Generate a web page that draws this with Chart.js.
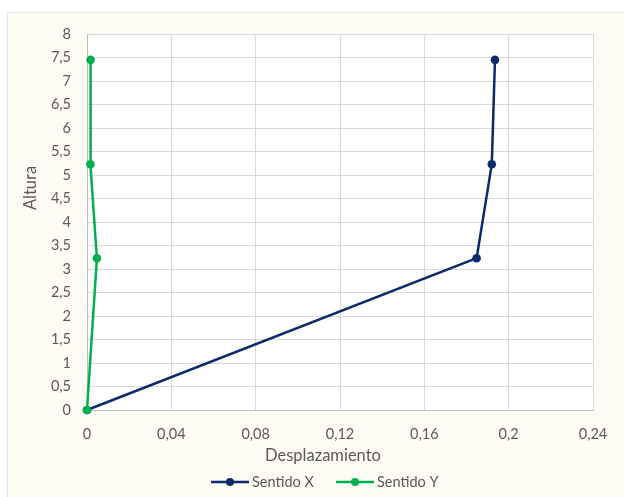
<!DOCTYPE html>
<html>
<head>
<meta charset="utf-8">
<script src="https://cdn.jsdelivr.net/npm/chart.js@4"></script>
<style>
  html, body { margin: 0; padding: 0; background: #ffffff; }
  #wrap { position: absolute; left: 0; top: 0; width: 624px; height: 497px; }
</style>
</head>
<body>
<div id="wrap"><canvas id="c" width="624" height="497"></canvas></div>
<script>
// Desplazamiento por nivel (altura en m)
const alturas = [0, 3.23, 5.23, 7.45];
const sentidoX = [0, 0.1848, 0.1920, 0.1935];
const sentidoY = [0, 0.0047, 0.0016, 0.0017];

const xTickValues = [0, 0.04, 0.08, 0.12, 0.16, 0.2, 0.24];
const xTickLabels = ['0', '0,04', '0,08', '0,12', '0,16', '0,2', '0,24'];
const yTickValues = [0, 0.5, 1, 1.5, 2, 2.5, 3, 3.5, 4, 4.5, 5, 5.5, 6, 6.5, 7, 7.5, 8];
const yTickLabels = ['0', '0,5', '1', '1,5', '2', '2,5', '3', '3,5', '4', '4,5', '5', '5,5', '6', '6,5', '7', '7,5', '8'];

const seriesNames = ['Sentido X', 'Sentido Y'];
const seriesColors = ['#0b2a6b', '#00b050'];

const FONT = 'Lato, "Open Sans", sans-serif';
const TEXT = '#595959';

const toPoints = xs => xs.map((x, i) => ({ x: x, y: alturas[i] }));

// Fondo del gráfico, títulos de ejes y leyenda
const decor = {
  id: 'decor',
  beforeDraw(chart) {
    const ctx = chart.ctx;
    ctx.save();
    ctx.fillStyle = '#fefcf5';
    ctx.fillRect(7, 12, 617, 485);
    ctx.strokeStyle = '#e6e6e6';
    ctx.lineWidth = 1;
    ctx.strokeRect(7.5, 12.5, 620, 490);
    const a = chart.chartArea;
    ctx.fillStyle = '#ffffff';
    ctx.fillRect(a.left, a.top, a.right - a.left, a.bottom - a.top);
    ctx.restore();
  },
  afterDraw(chart) {
    const ctx = chart.ctx;
    ctx.save();
    ctx.fillStyle = TEXT;
    ctx.font = '16.5px ' + FONT;
    ctx.textAlign = 'center';
    ctx.textBaseline = 'middle';
    ctx.fillText('Desplazamiento', 323, 456);
    ctx.translate(31, 188);
    ctx.rotate(-Math.PI / 2);
    ctx.fillText('Altura', 0, 0);
    ctx.restore();

    // leyenda
    ctx.save();
    ctx.font = '14.5px ' + FONT;
    ctx.textBaseline = 'middle';
    ctx.textAlign = 'left';
    const items = [{ x0: 211, x1: 249, tx: 252 }, { x0: 336, x1: 374, tx: 377 }];
    const ly = 482;
    items.forEach((it, i) => {
      ctx.strokeStyle = seriesColors[i];
      ctx.lineWidth = 2.5;
      ctx.beginPath();
      ctx.moveTo(it.x0, ly);
      ctx.lineTo(it.x1, ly);
      ctx.stroke();
      ctx.fillStyle = seriesColors[i];
      ctx.beginPath();
      ctx.arc((it.x0 + it.x1) / 2, ly, 4, 0, Math.PI * 2);
      ctx.fill();
      ctx.fillStyle = TEXT;
      ctx.fillText(seriesNames[i], it.tx, ly);
    });
    ctx.restore();
  }
};

new Chart(document.getElementById('c'), {
  type: 'scatter',
  data: {
    datasets: [
      {
        label: seriesNames[0],
        data: toPoints(sentidoX),
        showLine: true,
        clip: false,
        borderColor: seriesColors[0],
        backgroundColor: seriesColors[0],
        borderWidth: 2.5,
        pointRadius: 4.3,
        pointBorderWidth: 0,
        order: 1
      },
      {
        label: seriesNames[1],
        data: toPoints(sentidoY),
        showLine: true,
        clip: false,
        borderColor: seriesColors[1],
        backgroundColor: seriesColors[1],
        borderWidth: 2.5,
        pointRadius: 4.3,
        pointBorderWidth: 0,
        order: 0
      }
    ]
  },
  options: {
    responsive: false,
    animation: false,
    devicePixelRatio: 1,
    layout: { padding: { left: 0, top: 34, right: 31, bottom: 0 } },
    plugins: { legend: { display: false }, tooltip: { enabled: false }, title: { display: false } },
    scales: {
      x: {
        type: 'linear',
        min: 0,
        max: 0.24,
        afterBuildTicks: s => { s.ticks = xTickValues.map(v => ({ value: v })); },
        afterFit: s => { s.height = 87; },
        grid: { color: '#d9d9d9', lineWidth: 1, drawTicks: false },
        border: { color: '#bfbfbf', width: 1 },
        ticks: {
          padding: 16,
          color: TEXT,
          font: { family: FONT, size: 14.5 },
          maxRotation: 0,
          callback: (v, i) => xTickLabels[i]
        }
      },
      y: {
        type: 'linear',
        min: 0,
        max: 8,
        afterBuildTicks: s => { s.ticks = yTickValues.map(v => ({ value: v })); },
        afterFit: s => { s.width = 87; },
        grid: { color: '#d9d9d9', lineWidth: 1, drawTicks: false },
        border: { color: '#bfbfbf', width: 1 },
        ticks: {
          padding: 16,
          color: TEXT,
          font: { family: FONT, size: 14.5 },
          callback: (v, i) => yTickLabels[i]
        }
      }
    }
  },
  plugins: [decor]
});
</script>
</body>
</html>
